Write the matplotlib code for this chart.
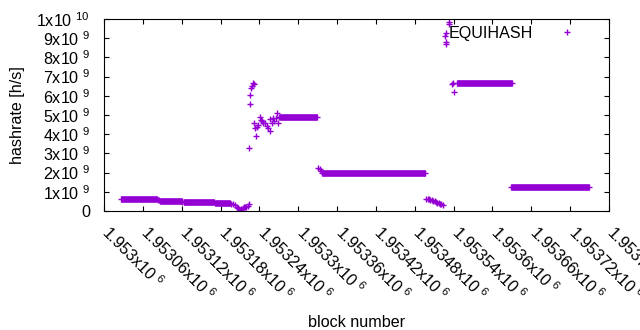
import matplotlib
matplotlib.use("Agg")
import matplotlib.pyplot as plt
from matplotlib.ticker import FixedLocator, FuncFormatter
from matplotlib.transforms import ScaledTranslation

plt.rcParams["font.family"] = ["Liberation Sans", "DejaVu Sans"]
plt.rcParams["mathtext.fontset"] = "custom"
plt.rcParams["mathtext.rm"] = "Liberation Sans"
plt.rcParams["mathtext.it"] = "Liberation Sans"
plt.rcParams["mathtext.bf"] = "Liberation Sans"

COLOR = "#9400d3"
FS = 11.6

# steady stretches: first block, last block, hashrate [h/s]
run_start = [1953026, 1953086, 1953124, 1953172, 1953272, 1953337, 1953545, 1953629]
run_end = [1953082, 1953120, 1953170, 1953195, 1953329, 1953496, 1953630, 1953749]
run_rate = [0.61e9, 0.52e9, 0.45e9, 0.40e9, 4.88e9, 2.00e9, 6.65e9, 1.23e9]

# single blocks outside the steady stretches
pt_block = [1953083, 1953085, 1953121, 1953123,
            1953196, 1953199, 1953202, 1953205, 1953207, 1953209, 1953210,
            1953212, 1953214, 1953216, 1953218, 1953220, 1953222, 1953224,
            1953224, 1953225, 1953226, 1953227, 1953229, 1953230, 1953231,
            1953232, 1953233, 1953235, 1953236, 1953238, 1953241, 1953243,
            1953244, 1953246, 1953249, 1953251, 1953253, 1953256, 1953257,
            1953259, 1953261, 1953263, 1953265, 1953267, 1953269, 1953270,
            1953331, 1953333, 1953335,
            1953498, 1953500, 1953502, 1953504, 1953506, 1953508, 1953511,
            1953513, 1953515, 1953517, 1953519, 1953521, 1953524,
            1953527, 1953528, 1953528, 1953529, 1953533, 1953533,
            1953537, 1953539, 1953541]
pt_rate = [0.58e9, 0.55e9, 0.49e9, 0.47e9,
           0.38e9, 0.35e9, 0.30e9, 0.22e9, 0.15e9, 0.08e9, 0.04e9,
           0.10e9, 0.15e9, 0.20e9, 0.22e9, 0.20e9, 0.25e9, 0.35e9,
           3.30e9, 5.57e9, 6.06e9, 6.40e9, 6.50e9, 6.67e9, 6.60e9,
           4.58e9, 4.30e9, 3.90e9, 4.40e9, 4.50e9, 4.90e9, 4.75e9,
           4.70e9, 4.60e9, 4.56e9, 4.45e9, 4.30e9, 4.18e9, 4.80e9,
           4.60e9, 4.84e9, 4.70e9, 4.85e9, 5.10e9, 4.60e9, 4.90e9,
           2.22e9, 2.20e9, 2.10e9,
           0.62e9, 0.60e9, 0.60e9, 0.58e9, 0.55e9, 0.54e9, 0.50e9,
           0.47e9, 0.44e9, 0.42e9, 0.38e9, 0.35e9, 0.30e9,
           9.13e9, 8.68e9, 8.82e9, 9.25e9, 9.72e9, 9.83e9,
           6.60e9, 6.65e9, 6.21e9]

x_ticks = [1953000 + 60 * i for i in range(14)]
y_ticks = [i * 1e9 for i in range(11)]


def x_fmt(v, pos):
    return "%.6gx10 $^{6}$" % (v / 1e6)


def y_fmt(v, pos):
    if v == 0:
        return "0"
    if v >= 1e10:
        return "1x10 $^{10}$"
    return "%dx10 $^{9}$" % round(v / 1e9)


fig = plt.figure(figsize=(6.4, 3.3), dpi=100)
ax = fig.add_axes([104 / 640, 1 - 211 / 330, 505 / 640, 192 / 330])

ms = 5.0
mew = 1.0
ax.hlines(run_rate, run_start, run_end, colors=COLOR, linewidth=4.8, capstyle="butt")
ax.plot(run_start + run_end, run_rate + run_rate, "+", color=COLOR, ms=ms, mew=mew)
pts, = ax.plot(pt_block, pt_rate, "+", color=COLOR, ms=ms, mew=mew, label="EQUIHASH")

ax.set_xlim(x_ticks[0], x_ticks[-1])
ax.set_ylim(0, 1e10)
ax.xaxis.set_major_locator(FixedLocator(x_ticks))
ax.yaxis.set_major_locator(FixedLocator(y_ticks))
ax.xaxis.set_major_formatter(FuncFormatter(x_fmt))
ax.yaxis.set_major_formatter(FuncFormatter(y_fmt))
ax.tick_params(direction="in", top=True, right=True, length=3.3, width=0.8,
               labelsize=FS, colors="black")
ax.tick_params(axis="y", pad=10)
ax.tick_params(axis="x", pad=8)
shift = ScaledTranslation(8 / 100, 0, fig.dpi_scale_trans)
for lab in ax.get_xticklabels():
    lab.set_rotation(-45)
    lab.set_ha("left")
    lab.set_va("top")
    lab.set_rotation_mode("anchor")
    lab.set_transform(lab.get_transform() + shift)
for sp in ax.spines.values():
    sp.set_linewidth(0.8)

ax.set_xlabel("block number", fontsize=FS)
ax.set_ylabel("hashrate [h/s]", fontsize=FS)
ax.xaxis.set_label_coords(0.5, -0.583)
ax.xaxis.label.set_va("center")
ax.yaxis.set_label_coords(-0.172, 0.5)
ax.yaxis.label.set_va("center")

ax.legend(handles=[pts], loc="upper right", bbox_to_anchor=(0.958, 0.965),
          markerfirst=False, frameon=False, handlelength=2.6, handletextpad=0.8,
          borderpad=0, borderaxespad=0, fontsize=FS)

fig.savefig("out.png", dpi=100)
